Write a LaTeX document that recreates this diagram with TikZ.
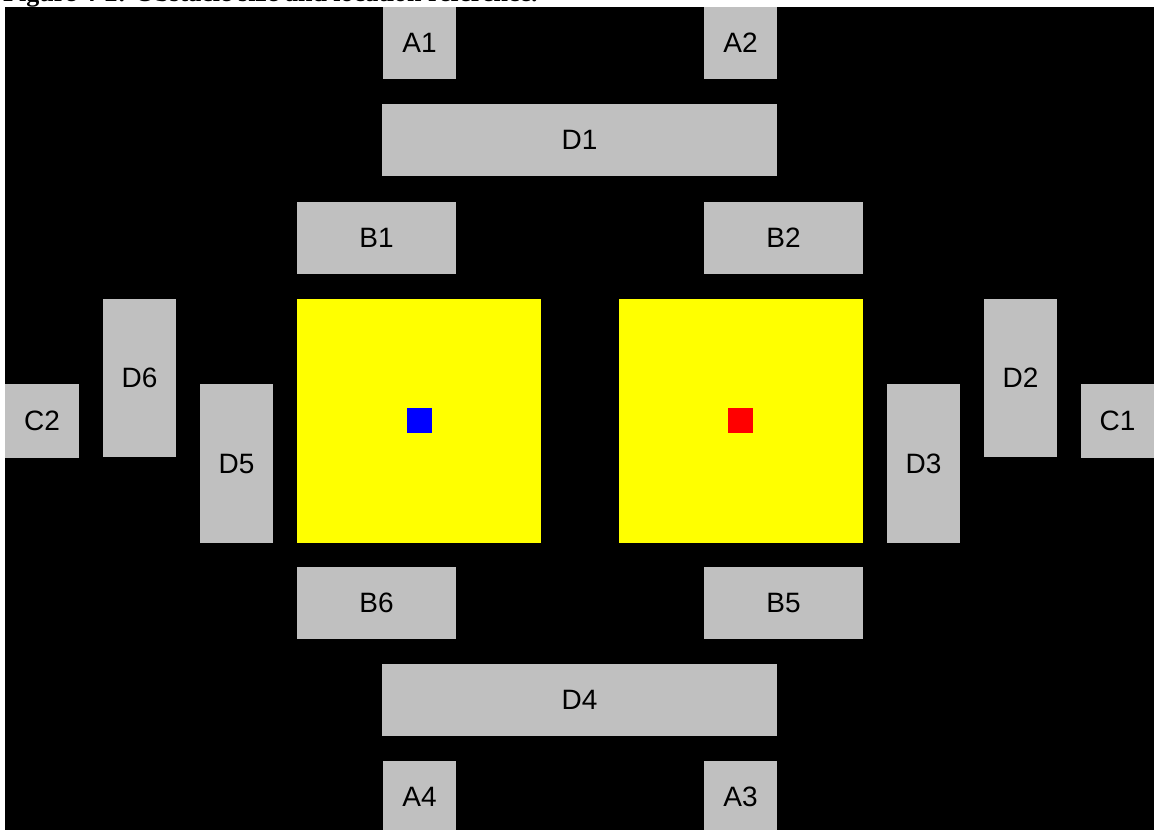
\documentclass[tikz,border=0pt]{standalone}
\usepackage{fontspec}
\setmainfont{Liberation Sans}
\newfontfamily\capfont{Liberation Serif}
\usepackage{xcolor}
\definecolor{obstgray}{RGB}{192,192,192}
\definecolor{zoneyellow}{RGB}{255,255,0}
\definecolor{robotblue}{RGB}{0,0,255}
\definecolor{robotred}{RGB}{255,0,0}

\tikzset{
  obst/.style={fill=obstgray, draw=none, inner sep=0pt, font=\fontsize{28}{32}\selectfont},
  zone/.style={fill=zoneyellow, draw=none, inner sep=0pt, minimum size=244pt},
  robot/.style={draw=none, inner sep=0pt, minimum size=25pt}
}

\begin{document}
\begin{tikzpicture}[x=1pt, y=-1pt]
  \useasboundingbox (0,0) rectangle (1154,830);
  \clip (0,0) rectangle (1154,830);
  \fill[white] (0,0) rectangle (1154,830);

  % caption, cut at the top
  \node[anchor=base west, inner sep=0pt, font=\capfont\bfseries\fontsize{26}{30}\selectfont] (cap) at (3,1.5)
    {Figure 4-2: Obstacle size and location reference.};

  % field
  \fill[black] (5,7) rectangle (1160,840);

  % start zones
  \node[zone] (zoneL) at (419,421) {};
  \node[zone] (zoneR) at (741,421) {};
  \node[robot, fill=robotblue] (robotL) at (419.5,420.5) {};
  \node[robot, fill=robotred]  (robotR) at (740.5,420.5) {};

  % obstacles: name/x/y/width/height
  \foreach \n/\cx/\cy/\w/\h in {
      A1/419.5/43/73/72, A2/740.5/43/73/72,
      D1/579.5/140/395/72,
      B1/376.5/238/159/72, B2/783.5/238/159/72,
      D6/139.5/378/73/158, D5/236.5/463.5/73/159,
      D2/1020.5/378/73/158, D3/923.5/463.5/73/159,
      C2/42/421/74/74, C1/1117.5/421/73/74,
      B6/376.5/603/159/72, B5/783.5/603/159/72,
      D4/579.5/700/395/72,
      A4/419.5/797/73/72, A3/740.5/797/73/72} {
    \node[obst, minimum width=\w pt, minimum height=\h pt] (\n) at (\cx,\cy) {\n};
  }
\end{tikzpicture}
\end{document}
